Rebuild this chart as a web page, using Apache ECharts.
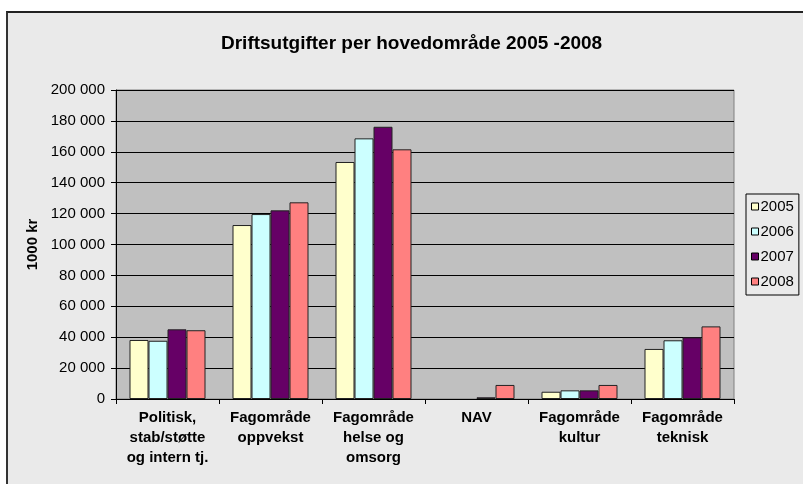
<!DOCTYPE html>
<html>
<head>
<meta charset="utf-8">
<script src="https://cdn.jsdelivr.net/npm/echarts@6/dist/echarts.min.js"></script>
<style>
html,body{margin:0;padding:0;background:#fff;}
#wrap{position:relative;width:803px;height:484px;overflow:hidden;background:#fff;}
#bg{position:absolute;left:6px;top:11px;width:800px;height:480px;background:#EAEAEA;border-left:2px solid #333;border-top:2px solid #222;}
#chart{position:absolute;left:0;top:0;width:803px;height:484px;}
</style>
</head>
<body>
<div id="wrap"><div id="bg"></div><div id="chart"></div></div>
<script>
const categories = ['Politisk,\nstab/støtte\nog intern tj.', 'Fagområde\noppvekst', 'Fagområde\nhelse og\nomsorg', 'NAV', 'Fagområde\nkultur', 'Fagområde\nteknisk'];
const years = ['2005', '2006', '2007', '2008'];
const v2005 = [38200, 112600, 153400, 0, 4700, 32400];
const v2006 = [37700, 119700, 168700, 0, 5600, 38000];
const v2007 = [45100, 122100, 176200, 1100, 5600, 39900];
const v2008 = [44500, 127300, 161600, 9100, 9100, 47000];
const colors = ['#FFFFCC', '#CCFFFF', '#660066', '#FF8080'];
const yTicks = { min: 0, max: 200000, interval: 20000 };

const font = 'Liberation Sans, Arial, sans-serif';
const seriesData = [v2005, v2006, v2007, v2008];
const chart = echarts.init(document.getElementById('chart'), null, { renderer: 'canvas' });
chart.setOption({
  backgroundColor: 'transparent',
  animation: false,
  title: {
    text: 'Driftsutgifter per hovedområde 2005 -2008',
    left: 216, top: 29,
    textStyle: { fontFamily: font, fontSize: 19, fontWeight: 'bold', color: '#000' }
  },
  legend: {
    orient: 'vertical',
    left: 746, top: 194,
    padding: [5, 5, 6, 5],
    itemWidth: 7, itemHeight: 7, itemGap: 10,
    borderColor: '#000', borderWidth: 1,
    backgroundColor: '#EAEAEA',
    icon: 'rect',
    itemStyle: { borderColor: '#000', borderWidth: 1 },
    textStyle: { fontFamily: font, fontSize: 15, color: '#000', padding: [0, 0, 0, -3] },
    data: years
  },
  grid: {
    left: 116, right: 69, top: 90, bottom: 85,
    show: true, backgroundColor: '#C0C0C0', borderColor: '#808080', borderWidth: 1
  },
  xAxis: {
    type: 'category',
    data: categories,
    axisLine: { lineStyle: { color: '#000', width: 1 } },
    axisTick: { show: true, length: 5, lineStyle: { color: '#000' } },
    axisLabel: { interval: 0, margin: 9, lineHeight: 20, fontFamily: font, fontSize: 15, fontWeight: 'bold', color: '#000' },
    splitLine: { show: false }
  },
  yAxis: {
    type: 'value',
    min: yTicks.min, max: yTicks.max, interval: yTicks.interval,
    name: '1000 kr',
    nameLocation: 'middle',
    nameRotate: 90,
    nameGap: 75,
    nameTextStyle: { fontFamily: font, fontSize: 15, fontWeight: 'bold', color: '#000' },
    axisLine: { show: true, lineStyle: { color: '#000', width: 1 } },
    axisTick: { show: true, length: 5, lineStyle: { color: '#000' } },
    axisLabel: {
      margin: 11, fontFamily: font, fontSize: 15, color: '#000',
      formatter: v => String(v).replace(/\B(?=(\d{3})+(?!\d))/g, ' ')
    },
    splitLine: { show: true, lineStyle: { color: '#000', width: 1 } }
  },
  series: years.map((y, i) => ({
    name: y,
    type: 'bar',
    data: seriesData[i].map(v => ({ value: v, itemStyle: v === 0 ? { borderWidth: 0 } : undefined })),
    barWidth: 19,
    barGap: '0%',
    itemStyle: { color: colors[i], borderColor: '#222', borderWidth: 1 }
  }))
});
</script>
</body>
</html>
